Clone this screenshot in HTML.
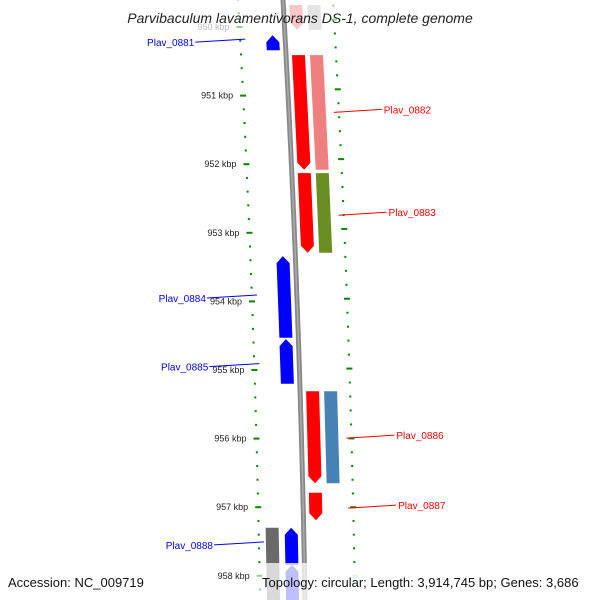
<!DOCTYPE html>
<html><head><meta charset="utf-8"><style>
body{margin:0;background:#fff}
svg{display:block;font-family:"Liberation Sans",sans-serif}
</style></head><body>
<svg id="map" width="600" height="600" viewBox="0 0 600 600">
<g id="ticks"></g>
<g id="feats"></g>
<path id="backbone" fill="none" stroke="#888" stroke-width="5"></path>
<path id="backbone2" fill="none" stroke="#aaa" stroke-width="1.5"></path>
<g id="labels"></g>
<text x="300" y="23" text-anchor="middle" font-size="14" font-style="italic" fill="#222">Parvibaculum lavamentivorans DS-1, complete genome</text>
<text x="8" y="587" font-size="13" fill="#111">Accession: NC_009719</text>
<rect x="262" y="563" width="338" height="37" fill="#fff" fill-opacity="0.75"></rect>
<text x="262" y="587" font-size="13" fill="#111">Topology: circular; Length: 3,914,745 bp; Genes: 3,686</text>
</svg>
<script>
const majorTicks = [950,951,952,953,954,955,956,957,958];
const geneNames = ["top-pink","top-gray","Plav_0881","Plav_0882","pink-0882","Plav_0883","olive-0883","Plav_0884","Plav_0885","Plav_0886","steel-0886","Plav_0887","gray-0888","Plav_0888","blue-0888b"];
const geneStart = [949.68,949.68,950.12,950.41,950.41,952.13,952.13,953.34,954.55,955.31,955.31,956.79,957.30,957.30,957.84];
const geneEnd   = [950.04,950.04,950.34,952.08,952.08,953.29,953.29,954.53,955.20,956.65,956.65,957.19,958.40,957.84,958.40];
const geneLane  = [1,2,-1,1,2,1,2,-1,-1,1,2,1,-2,-1,-1];
const geneDir   = [1,0,-1,1,0,1,0,-1,-1,1,0,1,0,-1,-1];
const geneColor = ["#f8c8c8","#e4e4e4","#0000ff","#ff0000","#f08080","#ff0000","#6b8e23","#0000ff","#0000ff","#ff0000","#4682b4","#ff0000","#6a6a6a","#0000ff","#0000ff"];
const labelNames = ["Plav_0881","Plav_0882","Plav_0883","Plav_0884","Plav_0885","Plav_0886","Plav_0887","Plav_0888"];
const labelKbp = [950.22,951.2,952.7,953.95,954.95,955.95,956.97,957.55];
const labelSide = [-1,1,1,-1,-1,1,1,-1];

const NS="http://www.w3.org/2000/svg";
const Y=k=>27+(k-950)*68.6;
const BX=y=>283+0.0567*y-3.33e-5*y*y;
function el(t,a,p){const e=document.createElementNS(NS,t);for(const k in a)e.setAttribute(k,a[k]);p.appendChild(e);return e;}
// backbone
let d="";for(let y=-5;y<=605;y+=5){d+=(y<0?"M":"L")+BX(y).toFixed(1)+" "+y+" ";}
document.getElementById("backbone").setAttribute("d",d);
document.getElementById("backbone2").setAttribute("d",d);
// ticks
const tg=document.getElementById("ticks");
for(let k=949.6;k<=958.5;k+=0.2){
  const kk=Math.round(k*10)/10;const y=Y(kk);
  const maj=Math.abs(kk-Math.round(kk))<0.01;
  const yo=y-8+8*Math.min(y,450)/450;
  const col=(y<32||y>565)?"#9c9":"#080";
  const a=el("line",{x1:BX(y)-45-(maj?3:1),x2:BX(y)-45+(maj?3:1),y1:y,y2:y,stroke:col,"stroke-width":2},tg);
  
  
  const b=el("line",{x1:BX(yo)+50-(maj?3:1),x2:BX(yo)+50+(maj?3:1),y1:yo,y2:yo,stroke:col,"stroke-width":2},tg);
  
  
}
majorTicks.forEach(k=>{const y=Y(k);
  const t=el("text",{x:BX(y)-55,y:y+3,"text-anchor":"end","font-size":9,fill:k==950?"#bbb":"#222"},tg);
  t.textContent=k+" kbp";
  
  
});
// features
const fg=document.getElementById("feats");
const lanes={1:[6,19],2:[24,37],"-1":[-19,-6],"-2":[-38,-25]};
geneNames.forEach((n,i)=>{
  const y0=Y(geneStart[i]),y1=Y(geneEnd[i]);const [o1,o2]=lanes[geneLane[i]];
  const L=y=>BX(y)+o1,R=y=>BX(y)+o2;const ah=7;let pts;
  if(geneDir[i]==1){const ym=y1-ah;pts=[[L(y0),y0],[R(y0),y0],[R(ym),ym],[(L(y1)+R(y1))/2,y1],[L(ym),ym]];}
  else if(geneDir[i]==-1){const ym=y0+ah;pts=[[(L(y0)+R(y0))/2,y0],[R(ym),ym],[R(y1),y1],[L(y1),y1],[L(ym),ym]];}
  else pts=[[L(y0),y0],[R(y0),y0],[R(y1),y1],[L(y1),y1]];
  const p=el("polygon",{points:pts.map(q=>q[0].toFixed(1)+","+q[1].toFixed(1)).join(" "),fill:geneColor[i]},fg);
  
  
});
// labels
const lg=document.getElementById("labels");
labelNames.forEach((n,i)=>{const y=Y(labelKbp[i]);const s=labelSide[i];
  const c=s>0?"#f00":"#00f";
  if(s>0){const x0=BX(y)+45;
    const l=el("line",{x1:x0,y1:y+3,x2:x0+48,y2:y,stroke:c,"stroke-width":1},lg);
    
    
    const t=el("text",{x:x0+50,y:y+4,"font-size":10,fill:c},lg);t.textContent=n;
    
    
  }else{const x0=BX(y)-40;
    const l=el("line",{x1:x0,y1:y-3,x2:x0-50,y2:y,stroke:c,"stroke-width":1},lg);
    
    
    const t=el("text",{x:x0-51,y:y+4,"font-size":10,fill:c,"text-anchor":"end"},lg);t.textContent=n;
    
    
  }
});
</script>
</body></html>
